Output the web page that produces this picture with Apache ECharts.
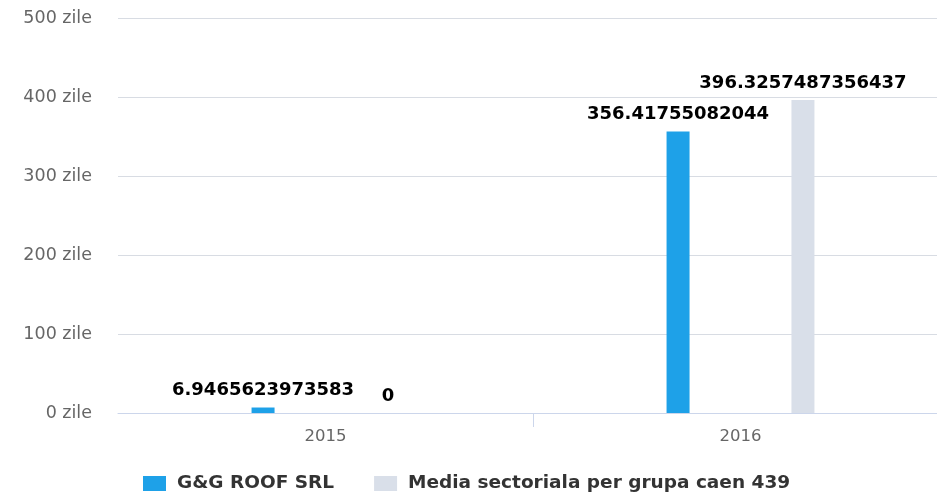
<!DOCTYPE html>
<html>
<head>
<meta charset="utf-8">
<script src="https://cdn.jsdelivr.net/npm/echarts@6/dist/echarts.min.js"></script>
<style>
  html, body { margin: 0; padding: 0; background: #fff; overflow: hidden; }
  #chart { width: 937px; height: 494px; }
</style>
</head>
<body>
<div id="chart"></div>
<script>
// Days indicator: company vs. sector average
const years = ['2015', '2016'];
const companyName = 'G&G ROOF SRL';
const sectorName = 'Media sectoriala per grupa caen 439';
const companyDays = [6.9465623973583, 356.41755082044];
const sectorDays = [0, 396.3257487356437];
const yTicks = [0, 100, 200, 300, 400, 500];

const chart = echarts.init(document.getElementById('chart'));
const font = 'DejaVu Sans, sans-serif';

const labelStyle = {
  show: true,
  position: 'top',
  distance: 8,
  fontFamily: font,
  fontWeight: 'bold',
  fontSize: 18,
  color: '#000',
  formatter: p => String(p.value)
};

chart.setOption({
  animation: false,
  textStyle: { fontFamily: font },
  // plot area runs slightly past the right edge of the canvas
  grid: { left: 118, right: -11, top: 18, bottom: 81, outerBoundsMode: 'none', containLabel: false },
  legend: {
    top: 469,
    left: 138,
    itemWidth: 23,
    itemHeight: 15,
    itemGap: 40,
    icon: 'rect',
    textStyle: {
      fontFamily: font, fontSize: 18.5, fontWeight: 'bold', color: '#333',
      padding: [0, 0, 0, 6]
    },
    data: [companyName, sectorName]
  },
  xAxis: [
    {
      type: 'category',
      data: years,
      position: 'bottom',
      axisLine: { lineStyle: { color: '#ccd6eb', width: 1 } },
      axisTick: { show: false },
      axisLabel: { color: '#666', fontSize: 16.5, fontFamily: font, margin: 15 }
    },
    {
      // separator tick between the two year groups
      type: 'value',
      position: 'bottom',
      min: 0,
      max: years.length,
      interval: 1,
      axisLine: { show: false },
      axisLabel: { show: false },
      splitLine: { show: false },
      axisTick: {
        show: true, length: 14,
        customValues: [1],
        lineStyle: { color: '#ccd6eb' }
      }
    }
  ],
  yAxis: {
    type: 'value',
    min: yTicks[0],
    max: yTicks[yTicks.length - 1],
    interval: yTicks[1] - yTicks[0],
    axisLine: { show: false },
    axisTick: { show: false },
    splitLine: { lineStyle: { color: '#d8dce3' } },
    axisLabel: {
      color: '#666', fontSize: 17.5, fontFamily: font, margin: 26,
      formatter: v => v + ' zile'
    }
  },
  series: [
    {
      name: companyName,
      type: 'bar',
      data: companyDays,
      barWidth: 23,
      barGap: '443%',
      itemStyle: { color: '#1ea1e8' },
      label: labelStyle
    },
    {
      name: sectorName,
      type: 'bar',
      data: sectorDays,
      barWidth: 23,
      itemStyle: { color: '#d9dfe9' },
      label: labelStyle
    }
  ]
});
</script>
</body>
</html>
